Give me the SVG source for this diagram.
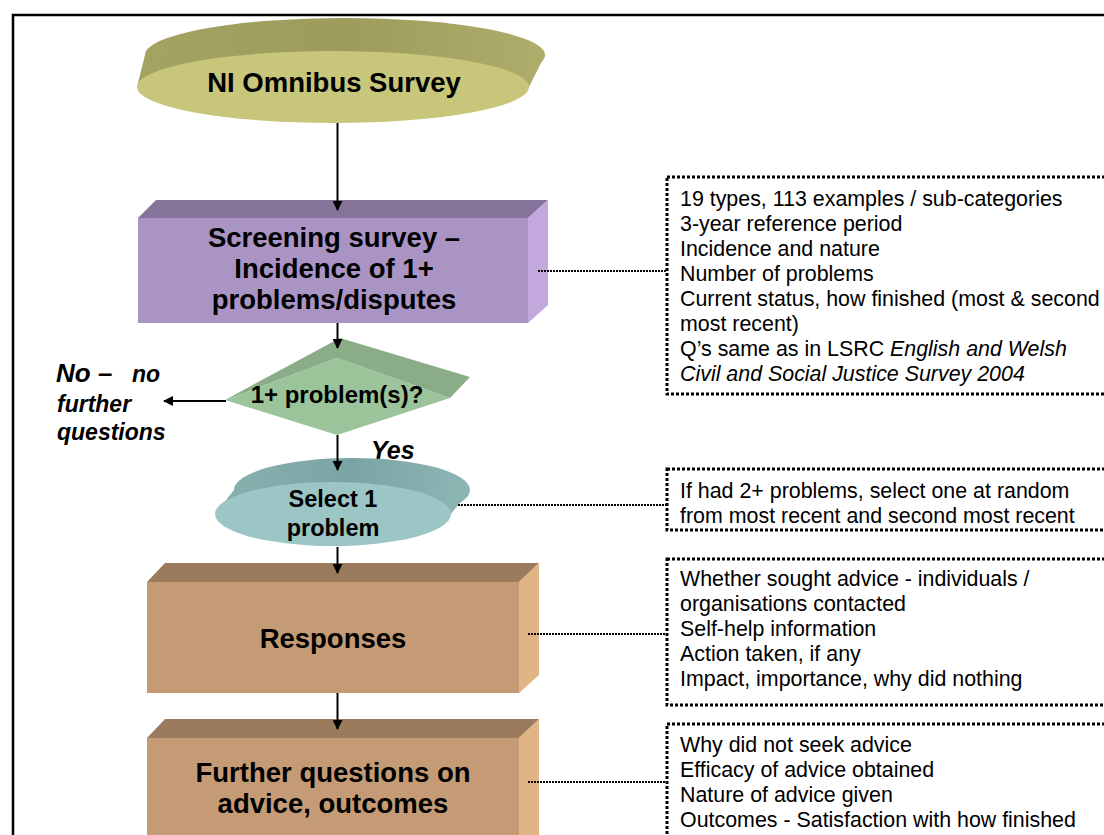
<svg xmlns="http://www.w3.org/2000/svg" width="1104" height="835" viewBox="0 0 1104 835">
<style>
.lbl{font-family:"Liberation Sans",Arial,sans-serif;font-weight:bold;fill:#000;text-anchor:middle}
.note{font-family:"Liberation Sans",Arial,sans-serif;font-size:21.4px;fill:#000}
.it{font-style:italic}
.bi{font-family:"Liberation Sans",Arial,sans-serif;font-weight:bold;font-style:italic;fill:#000}
.dbox{fill:none;stroke:#000;stroke-width:3;stroke-dasharray:3 2}
.dcon{fill:none;stroke:#000;stroke-width:2;stroke-dasharray:2 1}
.arr{fill:none;stroke:#000;stroke-width:2}
</style>
<defs>
<marker id="ah" markerWidth="10" markerHeight="10" refX="9" refY="5" orient="auto" markerUnits="userSpaceOnUse"><path d="M0,0 L10,5 L0,10 z" fill="#000"/></marker>
<linearGradient id="gOl" x1="0" y1="0" x2="1" y2="0"><stop offset="0" stop-color="#A3A362"/><stop offset="0.5" stop-color="#9D9C5C"/><stop offset="1" stop-color="#AEAD6B"/></linearGradient>
<linearGradient id="gTe" x1="0" y1="0" x2="1" y2="0"><stop offset="0" stop-color="#86AFAE"/><stop offset="0.5" stop-color="#7AA4A3"/><stop offset="1" stop-color="#8DB6B5"/></linearGradient>
</defs>
<rect x="13" y="15" width="1110" height="840" fill="none" stroke="#000" stroke-width="2.5"/>

<g id="omnibus">
<ellipse cx="345" cy="55" rx="200" ry="37" fill="url(#gOl)"/>
<polygon points="137,87 145,55 545,55 529,87" fill="url(#gOl)"/>
<ellipse cx="333" cy="87" rx="196" ry="36" fill="#C7C67B"/>
<text class="lbl" x="334" y="92" font-size="27.5">NI Omnibus Survey</text>
</g>

<g id="screening">
<polygon points="138,218 156,200 548,200 528,218" fill="#857399"/>
<polygon points="528,218 548,200 548,305 528,323" fill="#C3A8DE"/>
<rect x="138" y="218" width="390" height="105" fill="#AA94C4"/>
<text class="lbl" font-size="27.5" x="334" y="247">Screening survey –</text>
<text class="lbl" font-size="27.5" x="334" y="278">Incidence of 1+</text>
<text class="lbl" font-size="27.5" x="334" y="309">problems/disputes</text>
</g>

<g id="decision">
<polygon points="225,400 340,338 470,377 450,398 337,358" fill="#8AAD88"/>
<polygon points="225,400 337,358 450,398 337,435" fill="#9CC49A"/>
<text class="lbl" font-size="24" x="337" y="403">1+ problem(s)?</text>
</g>

<g id="no-label">
<text class="bi" x="56" y="382" font-size="26">No –</text>
<text class="bi" x="132" y="382" font-size="23">no</text>
<text class="bi" x="57" y="412" font-size="23">further</text>
<text class="bi" x="57" y="440" font-size="23">questions</text>
</g>
<g id="yes-label"><text class="bi" x="371" y="459" font-size="25">Yes</text></g>

<g id="select">
<ellipse cx="352" cy="490" rx="118" ry="32" fill="url(#gTe)"/>
<polygon points="215,514 234,490 470,490 451,514" fill="url(#gTe)"/>
<ellipse cx="333" cy="514" rx="118" ry="32" fill="#9CC5C5"/>
<text class="lbl" font-size="23.5" x="333" y="507">Select 1</text>
<text class="lbl" font-size="23.5" x="333" y="536">problem</text>
</g>

<g id="responses">
<polygon points="147,582 165,563 539,563 519,582" fill="#9A7B5E"/>
<polygon points="519,582 539,563 539,675 519,693" fill="#E0B484"/>
<rect x="147" y="582" width="372" height="111" fill="#C49B74"/>
<text class="lbl" font-size="27.5" x="333" y="648">Responses</text>
</g>

<g id="further">
<polygon points="147,738 165,719 539,719 519,738" fill="#9A7B5E"/>
<polygon points="519,738 539,719 539,850 519,850" fill="#E0B484"/>
<rect x="147" y="738" width="372" height="110" fill="#C49B74"/>
<text class="lbl" font-size="27.5" x="333" y="782">Further questions on</text>
<text class="lbl" font-size="27.5" x="333" y="813">advice, outcomes</text>
</g>

<g id="connectors">
<line class="arr" x1="337.5" y1="123" x2="337.5" y2="210" marker-end="url(#ah)"/>
<line class="arr" x1="337.5" y1="323" x2="337.5" y2="348" marker-end="url(#ah)"/>
<line class="arr" x1="337.5" y1="435" x2="337.5" y2="470" marker-end="url(#ah)"/>
<line class="arr" x1="337.5" y1="547" x2="337.5" y2="573" marker-end="url(#ah)"/>
<line class="arr" x1="337.5" y1="693" x2="337.5" y2="729" marker-end="url(#ah)"/>
<line class="arr" x1="226" y1="401" x2="164" y2="401" marker-end="url(#ah)"/>
<line class="dcon" x1="538" y1="271" x2="666" y2="271"/>
<line class="dcon" x1="458" y1="505" x2="666" y2="505"/>
<line class="dcon" x1="528" y1="634" x2="666" y2="634"/>
<line class="dcon" x1="528" y1="782" x2="666" y2="782"/>
</g>

<g id="note-screening">
<rect class="dbox" x="667" y="177" width="460" height="217"/>
<text class="note" x="680" y="205.5">19 types, 113 examples / sub-categories</text>
<text class="note" x="680" y="230.6">3-year reference period</text>
<text class="note" x="680" y="255.7">Incidence and nature</text>
<text class="note" x="680" y="280.8">Number of problems</text>
<text class="note" x="680" y="305.9">Current status, how finished (most &amp; second</text>
<text class="note" x="680" y="331">most recent)</text>
<text class="note" x="680" y="356">Q’s same as in LSRC <tspan class="it">English and Welsh</tspan></text>
<text class="note it" x="680" y="381">Civil and Social Justice Survey 2004</text>
</g>

<g id="note-select">
<rect class="dbox" x="667" y="469" width="460" height="61"/>
<text class="note" x="680" y="497.5">If had 2+ problems, select one at random</text>
<text class="note" x="680" y="523">from most recent and second most recent</text>
</g>

<g id="note-responses">
<rect class="dbox" x="667" y="559" width="460" height="146"/>
<text class="note" x="680" y="586">Whether sought advice - individuals /</text>
<text class="note" x="680" y="611">organisations contacted</text>
<text class="note" x="680" y="636">Self-help information</text>
<text class="note" x="680" y="661">Action taken, if any</text>
<text class="note" x="680" y="686">Impact, importance, why did nothing</text>
</g>

<g id="note-further">
<rect class="dbox" x="667" y="724" width="460" height="140"/>
<text class="note" x="680" y="752">Why did not seek advice</text>
<text class="note" x="680" y="777">Efficacy of advice obtained</text>
<text class="note" x="680" y="802">Nature of advice given</text>
<text class="note" x="680" y="827">Outcomes - Satisfaction with how finished</text>
</g>
</svg>
